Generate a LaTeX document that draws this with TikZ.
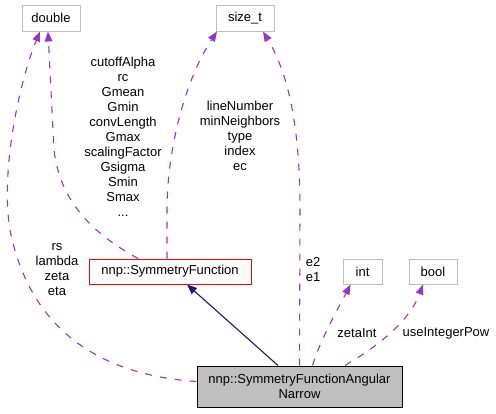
\documentclass[tikz,border=0pt]{standalone}
\usepackage{fontspec}
\setmainfont{Liberation Sans}
\usepackage{xcolor}
\usepackage{tikz}
\usetikzlibrary{arrows.meta,calc}

\definecolor{depcol}{HTML}{9A32CD}
\definecolor{inhcol}{HTML}{191970}
\definecolor{boxgray}{HTML}{BFBFBF}

\begin{document}
\begin{tikzpicture}[x=1pt,y=-1pt,>={Triangle[length=10pt,width=8pt]},
  font=\fontsize{13}{15}\selectfont,
  typebox/.style={draw=boxgray,line width=1pt,inner sep=0pt,minimum height=26pt},
  classbox/.style={draw,line width=1pt,inner sep=0pt,minimum height=25pt},
  dep/.style={draw=depcol,line width=1.1pt,dash pattern=on 7pt off 8pt,->,
    >={Triangle[length=10pt,width=8pt,fill=depcol,line width=0pt]}},
  inherit/.style={draw=inhcol,line width=1.1pt,->},
  lbl/.style={align=center,inner sep=0pt}]
  \useasboundingbox (0,0) rectangle (496,413);

  % types and classes
  \node[typebox,minimum width=58pt] (double) at (51,18) {double};
  \node[typebox,minimum width=58pt] (sizet) at (245,18) {size\_t};
  \node[classbox,draw=red,minimum width=162pt] (sf) at (170,271.5) {nnp::SymmetryFunction};
  \node[typebox,minimum width=39pt,minimum height=25pt] (int) at (362.5,271.5) {int};
  \node[typebox,minimum width=48pt,minimum height=25pt] (bool) at (433,271.5) {bool};
  \node[classbox,fill=boxgray,minimum width=205pt,minimum height=41pt,align=center] (narrow) at (299.5,386.5)
    {nnp::SymmetryFunctionAngular\\Narrow};

  % members
  \draw[dep] ([xshift=-32pt]sf.north) .. controls (90,232) and (60,200) .. (54,150)
    -- ([xshift=-3pt]double.south);
  \draw[dep] ([xshift=-3pt]sf.north) -- (167,210) .. controls (167,150) and (185,80)
    .. ([xshift=-28pt]sizet.south);
  \draw[dep] ([yshift=5pt]narrow.west) .. controls (100,375) and (30,330) .. (10,230)
    .. controls (0,170) and (20,80) .. ([xshift=-11pt]double.south);
  \draw[dep] (narrow.north) -- (300,210) .. controls (300,140) and (292,80)
    .. ([xshift=18pt]sizet.south);
  \draw[dep] ([xshift=13pt]narrow.north) .. controls (320,340) and (340,305)
    .. ([xshift=-12pt]int.south);
  \draw[dep] ([xshift=45.5pt]narrow.north) .. controls (380,345) and (410,320)
    .. ([xshift=-10pt]bool.south);

  % base class
  \draw[inherit] ([xshift=-21.5pt]narrow.north) -- ([xshift=17pt]sf.south);

  % labels
  \node[lbl] (lsfdouble) at (123,137) {cutoffAlpha\\rc\\Gmean\\Gmin\\convLength\\Gmax\\scalingFactor\\Gsigma\\Smin\\Smax\\...};
  \node[lbl] (lsfsize) at (240,136) {lineNumber\\minNeighbors\\type\\index\\ec};
  \node[lbl] (lnardouble) at (57,270) {rs\\lambda\\zeta\\eta};
  \node[lbl] (lnarsize) at (313,270) {e2\\e1};
  \node[lbl] (lnarint) at (357,333) {zetaInt};
  \node[lbl] (lnarbool) at (446,333) {useIntegerPow};
\end{tikzpicture}
\end{document}
